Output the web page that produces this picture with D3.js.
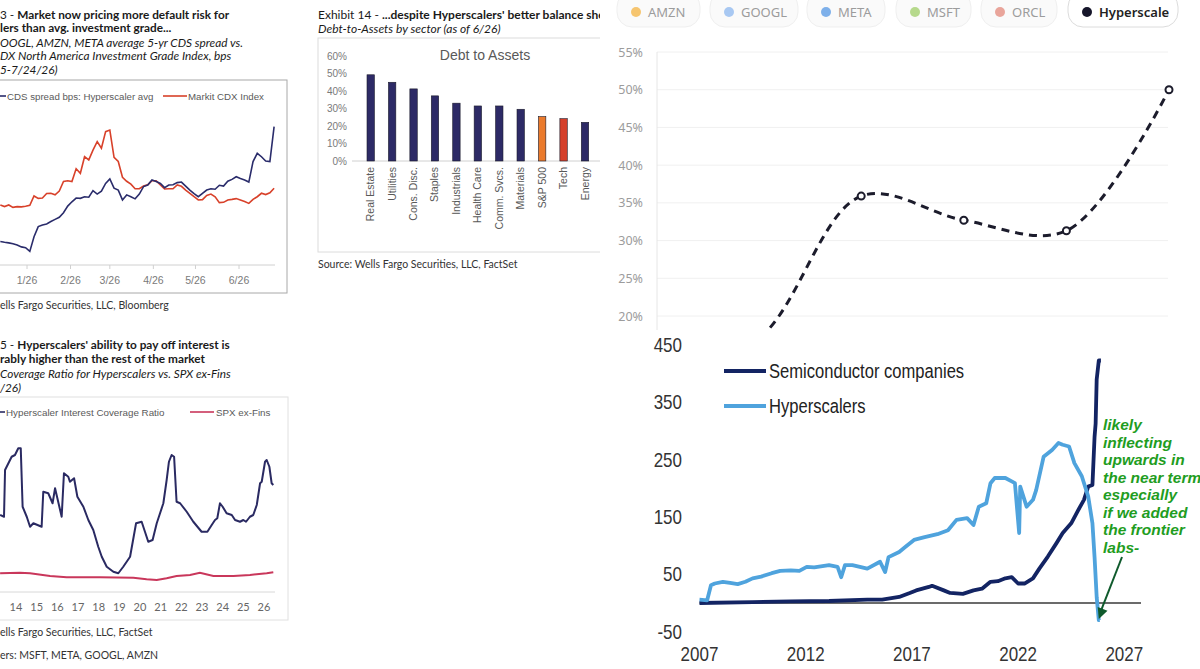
<!DOCTYPE html>
<html>
<head>
<meta charset="utf-8">
<title>Hyperscaler credit collage</title>
<style>
body { margin: 0; background: #fff; }
svg { display: block; }
.wf { font-family: Lato, "Open Sans", sans-serif; }
.ar { font-family: "Liberation Sans", Arial, sans-serif; }
.nt { font-family: "Noto Sans", "Open Sans", sans-serif; }
</style>
</head>
<body>
<svg id="chart" width="1200" height="669"></svg>
<script src="https://cdn.jsdelivr.net/npm/d3@7"></script>
<script>
// ---- Exhibit 13: CDS spreads (every 3rd day from 12/13/25) ----
var cdsDates = d3.timeDay.range(new Date(2025, 11, 13), new Date(2026, 5, 29), 3);
var cdsHyper = [38.8, 38.5, 38.3, 38.0, 37.5, 36.8, 36.5, 35.1, 40.6, 44.4, 45.0, 45.4, 46.3, 47.1, 47.9, 49.6,
  52.1, 53.7, 55.1, 55.0, 55.6, 55.4, 57.9, 56.6, 57.7, 60.6, 62.3, 58.8, 58.1, 54.4, 56.3, 55.6, 54.8, 56.6,
  59.4, 60.0, 61.9, 61.3, 60.6, 59.0, 60.0, 60.1, 60.9, 61.1, 59.6, 58.1, 56.8, 55.6, 56.9, 58.1, 58.6, 58.4,
  59.9, 59.6, 61.4, 62.1, 63.1, 62.4, 61.9, 61.1, 68.8, 71.9, 70.6, 69.0, 68.8, 81.9];
var cdsIndex = [52.5, 51.9, 52.5, 51.6, 51.9, 51.8, 52.0, 52.4, 55.9, 55.0, 55.1, 56.8, 56.9, 56.3, 57.7, 61.3,
  61.6, 61.3, 66.1, 64.4, 70.6, 69.4, 73.1, 76.3, 73.8, 80.0, 80.6, 70.4, 68.8, 62.9, 61.4, 60.3, 58.6, 58.6,
  59.6, 60.1, 61.6, 61.6, 60.0, 58.5, 58.6, 58.6, 60.0, 59.5, 58.1, 56.9, 55.6, 54.4, 54.5, 56.1, 56.6, 55.6,
  53.4, 53.5, 54.4, 54.6, 54.9, 54.4, 53.8, 53.1, 54.6, 55.6, 56.9, 56.4, 57.1, 58.8];
var cdsTicks = ['2026-01-01', '2026-02-01', '2026-03-01', '2026-04-01', '2026-05-01', '2026-06-01'];

// ---- Exhibit 14: debt to assets ----
var sectors = ['Real Estate', 'Utilities', 'Cons. Disc.', 'Staples', 'Industrials', 'Health Care',
  'Comm. Svcs.', 'Materials', 'S&P 500', 'Tech', 'Energy'];
var debtToAssets = [0.495, 0.452, 0.414, 0.374, 0.332, 0.316, 0.316, 0.297, 0.255, 0.243, 0.222];

// ---- Exhibit 15: interest coverage ----
var icrYears = [2013.23, 2013.42, 2013.47, 2013.79, 2013.95, 2014.11, 2014.23, 2014.32, 2014.52, 2014.68,
  2014.84, 2015.24, 2015.32, 2015.56, 2015.77, 2015.89, 2016.21, 2016.32, 2016.53, 2016.61, 2016.81, 2016.97,
  2017.26, 2017.5, 2017.74, 2017.98, 2018.15, 2018.39, 2018.71, 2018.95, 2019.19, 2019.52, 2019.81, 2020.08,
  2020.24, 2020.4, 2020.61, 2020.81, 2021.13, 2021.29, 2021.4, 2021.53, 2021.65, 2021.77, 2021.94, 2022.26,
  2022.58, 2022.98, 2023.26, 2023.47, 2023.63, 2023.74, 2023.87, 2024.0, 2024.19, 2024.44, 2024.6, 2024.84,
  2025.0, 2025.13, 2025.32, 2025.48, 2025.65, 2025.81, 2025.89, 2026.05, 2026.13, 2026.26, 2026.37, 2026.45];
var icrHyper = [30.8, 30.1, 48.8, 54.1, 54.8, 57.5, 57.5, 34.1, 30.1, 26.1, 27.5, 26.1, 40.1, 39.5, 35.5, 41.5,
  30.1, 47.5, 46.1, 44.1, 45.5, 38.1, 34.1, 28.8, 24.8, 18.1, 14.1, 10.1, 8.1, 7.5, 10.1, 14.1, 27.5, 28.1,
  24.1, 20.1, 20.8, 27.5, 35.5, 44.8, 52.1, 54.8, 54.1, 36.1, 35.5, 32.1, 28.1, 24.1, 24.1, 26.8, 28.8, 29.5,
  35.5, 34.1, 31.5, 30.8, 28.8, 28.1, 28.8, 28.1, 30.1, 30.8, 34.8, 43.5, 44.1, 52.1, 52.8, 50.1, 43.5, 42.8];
var spxYears = [2013.23, 2014.19, 2014.68, 2015.65, 2016.45, 2018.06, 2019.68, 2020.32, 2020.81, 2021.29,
  2021.77, 2022.42, 2022.9, 2023.55, 2024.52, 2025.32, 2026.13, 2026.45];
var spxExFins = [7.5, 7.7, 7.5, 6.4, 5.9, 5.9, 5.7, 5.1, 4.8, 5.5, 6.4, 6.8, 7.7, 6.4, 6.4, 6.8, 7.5, 7.9];
var icrTickYears = [2014, 2015, 2016, 2017, 2018, 2019, 2020, 2021, 2022, 2023, 2024, 2025, 2026];

// ---- capex intensity (top right) ----
var tickers = ['AMZN', 'GOOGL', 'META', 'MSFT', 'ORCL', 'Hyperscale'];
var tickerColors = ['#f6c56f', '#a8c8f2', '#7eb0ea', '#b6d98c', '#e9a59b', '#16162a'];
var hsPeriods = ['2020', '2021', '2022', '2023', '2024', '2025'];
var hsValues = [12.0, 17.0, 35.9, 32.7, 31.3, 50.0];

// ---- semis vs hyperscalers (bottom right) ----
var semiYears = [2007.0, 2009.5, 2011.3, 2013.1, 2014.9, 2015.6, 2016.4, 2016.9, 2017.2, 2017.8, 2017.95, 2018.5,
  2018.8, 2019.4, 2019.9, 2020.3, 2020.7, 2021.05, 2021.4, 2021.7, 2022.0, 2022.3, 2022.7, 2023.0, 2023.4, 2023.8,
  2024.1, 2024.5, 2024.8, 2025.1, 2025.3, 2025.5, 2025.6, 2025.65, 2025.7, 2025.8, 2025.9];
var semiValues = [0, 1.7, 2.9, 3.5, 5.8, 5.8, 10.5, 17.5, 22, 28, 30, 22, 17.5, 16, 22, 25, 37, 38, 43, 45, 34, 34,
  43, 60, 81, 104, 122, 139, 160, 180, 203, 206, 290, 313, 390, 423, 423];
var hyperYears = [2007.0, 2007.36, 2007.54, 2007.72, 2008.1, 2008.44, 2008.8, 2009.16, 2009.5, 2009.9, 2010.4,
  2010.8, 2011.3, 2011.7, 2012.05, 2012.4, 2013.1, 2013.5, 2013.67, 2013.85, 2014.2, 2014.9, 2015.5, 2015.74,
  2015.9, 2016.4, 2016.7, 2017.1, 2017.6, 2018.2, 2018.7, 2019.1, 2019.6, 2019.9, 2020.15, 2020.5, 2020.7,
  2020.9, 2021.4, 2021.7, 2021.85, 2022.05, 2022.1, 2022.4, 2022.7, 2022.85, 2023.2, 2023.6, 2023.9, 2024.1,
  2024.4, 2024.65, 2025.0, 2025.3, 2025.5, 2025.6, 2025.7, 2025.8, 2025.85];
var hyperValues = [5.8, 4.7, 31, 34, 37, 35, 33, 37, 43, 46, 52, 56, 57, 56, 63, 62, 66, 63, 45, 66, 66, 60, 72, 54,
  80, 89, 98, 110, 115, 120, 127, 145, 148, 136, 168, 174, 209, 218, 218, 212, 209, 122, 203, 168, 180, 197,
  255, 267, 279, 276, 273, 244, 221, 186, 139, 80, 10, -30, -30];
var eYearTicks = [2007, 2012, 2017, 2022, 2027];
var eValueTicks = [-50, 50, 150, 250, 350, 450];
var note = ['likely', 'inflecting', 'upwards in', 'the near term', 'especially', 'if we added', 'the frontier', 'labs-'];

var svg = d3.select('#chart');
var defs = svg.append('defs');
function clipRect(id, x, y, w, h) {
  defs.append('clipPath').attr('id', id).append('rect')
    .attr('x', x).attr('y', y).attr('width', w).attr('height', h);
  return 'url(#' + id + ')';
}
svg.append('rect').attr('width', 1200).attr('height', 669).attr('fill', '#fff');

// header lines: each line is a list of [text, bold]
function header(g, x, rows, cls) {
  rows.forEach(function(r) {
    var t = g.append('text').attr('class', cls).attr('x', x).attr('y', r.y)
      .attr('font-size', r.size || 11.8).attr('fill', '#1a1a1a')
      .attr('font-style', r.italic ? 'italic' : 'normal');
    r.parts.forEach(function(p) {
      t.append('tspan').attr('font-weight', p[1] ? 700 : 400).text(p[0]);
    });
  });
}
// narrow text for the BofA-style chart (Arial squeezed horizontally)
function narrow(g, x, y, str, size, anchor, fill) {
  return g.append('text').attr('class', 'ar')
    .attr('transform', 'translate(' + x + ',' + y + ') scale(0.85,1)')
    .attr('text-anchor', anchor).attr('font-size', size).attr('fill', fill || '#333').text(str);
}

/* ================= Exhibit 13 (top left) ================= */
var gA = svg.append('g').attr('clip-path', clipRect('cA', 0, 0, 300, 320));
header(gA, 0, [
  {y: 19, parts: [['3 - ', false], ['Market now pricing more default risk for', true]]},
  {y: 32, parts: [['lers than avg. investment grade...', true]]},
  {y: 47, italic: true, parts: [['OOGL, AMZN, META average 5-yr CDS spread vs.', false]]},
  {y: 60, italic: true, parts: [['DX North America Investment Grade Index, bps', false]]},
  {y: 74, italic: true, parts: [['5-7/24/26)', false]]}
], 'wf');
gA.append('rect').attr('x', -2).attr('y', 80).attr('width', 289).attr('height', 213)
  .attr('fill', 'none').attr('stroke', '#a8a8a8');

var xA = d3.scaleTime().domain([new Date(2026, 0, 1), new Date(2026, 5, 1)]).range([27, 239]);
var yA = d3.scaleLinear().domain([30, 90]).range([265, 105]);

gA.append('line').attr('x1', 0).attr('x2', 275).attr('y1', 265).attr('y2', 265).attr('stroke', '#d0d0d0');
cdsTicks.forEach(function(s) {
  var d = d3.timeParse('%Y-%m-%d')(s);
  gA.append('line').attr('x1', xA(d)).attr('x2', xA(d)).attr('y1', 265).attr('y2', 269).attr('stroke', '#d0d0d0');
  gA.append('text').attr('class', 'ar').attr('x', xA(d)).attr('y', 284).attr('text-anchor', 'middle')
    .attr('font-size', 10.5).attr('fill', '#7a7a7a').text(d3.timeFormat('%-m/%y')(d));
});

var lineA = function(vals) {
  return d3.line().x(function(d, i) { return xA(cdsDates[i]); }).y(function(d) { return yA(d); })(vals);
};
gA.append('path').attr('d', lineA(cdsIndex)).attr('fill', 'none').attr('stroke', '#d8412a').attr('stroke-width', 1.6);
gA.append('path').attr('d', lineA(cdsHyper)).attr('fill', 'none').attr('stroke', '#2a2c6b').attr('stroke-width', 1.6);

gA.append('line').attr('x1', 0).attr('x2', 6).attr('y1', 96).attr('y2', 96).attr('stroke', '#2a2c6b').attr('stroke-width', 1.6);
gA.append('text').attr('class', 'ar').attr('x', 7).attr('y', 99.5).attr('font-size', 9.7).attr('fill', '#5a5a5a')
  .text('CDS spread bps: Hyperscaler avg');
gA.append('line').attr('x1', 163).attr('x2', 187).attr('y1', 96).attr('y2', 96).attr('stroke', '#d8412a').attr('stroke-width', 1.6);
gA.append('text').attr('class', 'ar').attr('x', 188).attr('y', 99.5).attr('font-size', 9.7).attr('fill', '#5a5a5a')
  .text('Markit CDX Index');
gA.append('text').attr('class', 'wf').attr('x', 0).attr('y', 309).attr('font-size', 10.5).attr('fill', '#333')
  .text('ells Fargo Securities, LLC, Bloomberg');

/* ================= Exhibit 14 (top middle) ================= */
var gB = svg.append('g').attr('clip-path', clipRect('cB', 305, 0, 295, 320));
header(gB, 318, [
  {y: 19, size: 12, parts: [['Exhibit 14 - ', false], ["...despite Hyperscalers' better balance sheets", true]]},
  {y: 33, size: 12, italic: true, parts: [['Debt-to-Assets by sector (as of 6/26)', false]]}
], 'wf');
gB.append('rect').attr('x', 318).attr('y', 38).attr('width', 300).attr('height', 214)
  .attr('fill', 'none').attr('stroke', '#dcdcdc');
gB.append('text').attr('class', 'ar').attr('x', 485).attr('y', 60).attr('text-anchor', 'middle')
  .attr('font-size', 14).attr('fill', '#595959').text('Debt to Assets');

var xB = d3.scalePoint().domain(sectors).range([370.7, 585]);
var yB = d3.scaleLinear().domain([0, 0.6]).range([161, 56.5]);
yB.ticks(6).forEach(function(t) {
  gB.append('text').attr('class', 'ar').attr('x', 347).attr('y', yB(t) + 3.5).attr('text-anchor', 'end')
    .attr('font-size', 10).attr('fill', '#7a7a7a').text(d3.format('.0%')(t));
});
gB.append('line').attr('x1', 352).attr('x2', 600).attr('y1', 161).attr('y2', 161).attr('stroke', '#d0d0d0');
var barFill = function(s) { return s === 'S&P 500' ? '#ea7a2c' : s === 'Tech' ? '#d5402b' : '#2d2a66'; };
gB.selectAll('rect.bar').data(sectors).join('rect').attr('class', 'bar')
  .attr('x', function(s) { return xB(s) - 3.7; }).attr('width', 7.4)
  .attr('y', function(s, i) { return yB(debtToAssets[i]); })
  .attr('height', function(s, i) { return 161 - yB(debtToAssets[i]); })
  .attr('fill', barFill).attr('stroke', '#1b1b2b').attr('stroke-width', 0.6);
gB.selectAll('text.cat').data(sectors).join('text').attr('class', 'cat ar')
  .attr('transform', function(s) { return 'translate(' + (xB(s) + 3.5) + ',167) rotate(-90)'; })
  .attr('text-anchor', 'end').attr('font-size', 10.5).attr('fill', '#595959').text(function(s) { return s; });
gB.append('text').attr('class', 'wf').attr('x', 318).attr('y', 268).attr('font-size', 10.5).attr('fill', '#333')
  .text('Source: Wells Fargo Securities, LLC, FactSet');

/* ================= Exhibit 15 (bottom left) ================= */
var gC = svg.append('g').attr('clip-path', clipRect('cC', 0, 330, 300, 339));
header(gC, 0, [
  {y: 349, parts: [['5 - ', false], ["Hyperscalers' ability to pay off interest is", true]]},
  {y: 363, parts: [['rably higher than the rest of the market', true]]},
  {y: 378, italic: true, parts: [['Coverage Ratio for Hyperscalers vs. SPX ex-Fins', false]]},
  {y: 392, italic: true, parts: [['/26)', false]]}
], 'wf');
gC.append('rect').attr('x', -2).attr('y', 397).attr('width', 290).attr('height', 223)
  .attr('fill', 'none').attr('stroke', '#e0e0e0');

var xC = d3.scaleLinear().domain([2014, 2026]).range([16, 264]);
var yC = d3.scaleLinear().domain([0, 60]).range([592, 442]);
gC.append('line').attr('x1', 0).attr('x2', 275).attr('y1', 592).attr('y2', 592).attr('stroke', '#d8d8d8');
icrTickYears.forEach(function(y) {
  gC.append('text').attr('class', 'wf').attr('x', xC(y)).attr('y', 611).attr('text-anchor', 'middle')
    .attr('font-size', 11).attr('fill', '#666').text(String(y).slice(2));
});
var lineC = function(xs, vals) {
  return d3.line().x(function(d, i) { return xC(xs[i]); }).y(function(d) { return yC(d); })(vals);
};
gC.append('path').attr('d', lineC(spxYears, spxExFins)).attr('fill', 'none').attr('stroke', '#c9375b').attr('stroke-width', 2);
gC.append('path').attr('d', lineC(icrYears, icrHyper)).attr('fill', 'none').attr('stroke', '#2a2a62')
  .attr('stroke-width', 2).attr('stroke-linejoin', 'round');
gC.append('line').attr('x1', 0).attr('x2', 5).attr('y1', 412).attr('y2', 412).attr('stroke', '#2a2a62').attr('stroke-width', 1.6);
gC.append('text').attr('class', 'ar').attr('x', 6).attr('y', 415.5).attr('font-size', 9.8).attr('fill', '#5a5a5a')
  .text('Hyperscaler Interest Coverage Ratio');
gC.append('line').attr('x1', 190).attr('x2', 214).attr('y1', 412).attr('y2', 412).attr('stroke', '#c9375b').attr('stroke-width', 1.6);
gC.append('text').attr('class', 'ar').attr('x', 216).attr('y', 415.5).attr('font-size', 9.8).attr('fill', '#5a5a5a')
  .text('SPX ex-Fins');
gC.append('text').attr('class', 'wf').attr('x', 0).attr('y', 636).attr('font-size', 10.5).attr('fill', '#333')
  .text('ells Fargo Securities, LLC, FactSet');
gC.append('text').attr('class', 'wf').attr('x', 0).attr('y', 659).attr('font-size', 10.5).attr('fill', '#333')
  .text('ers: MSFT, META, GOOGL, AMZN');

/* ================= Hyperscale (top right) ================= */
var gD = svg.append('g').attr('clip-path', clipRect('cD', 600, 0, 600, 340));
var pillX = [617, 710, 807, 896, 981, 1068];
var pillW = [83, 88, 78, 75, 76, 110];
tickers.forEach(function(t, i) {
  var on = t === 'Hyperscale';
  gD.append('rect').attr('x', pillX[i]).attr('width', pillW[i]).attr('y', -8).attr('height', 35).attr('rx', 15)
    .attr('fill', on ? '#fff' : '#fafafa').attr('stroke', on ? '#dcdcdc' : '#efefef');
  gD.append('circle').attr('cx', pillX[i] + 19).attr('cy', 12).attr('r', 5).attr('fill', tickerColors[i]);
  gD.append('text').attr('class', 'nt').attr('x', pillX[i] + 31).attr('y', 17).attr('font-size', 13)
    .attr('font-weight', on ? 600 : 400).attr('fill', on ? '#222' : '#9c9c9c').text(t);
});

var xD = d3.scalePoint().domain(hsPeriods).range([656, 1169]);
var yD = d3.scaleLinear().domain([20, 55]).range([316, 52]);
d3.range(15, 56, 5).forEach(function(t) {
  gD.append('line').attr('x1', 657).attr('x2', 1168).attr('y1', yD(t)).attr('y2', yD(t)).attr('stroke', '#f0f0f0');
  gD.append('text').attr('class', 'nt').attr('x', 643).attr('y', yD(t) + 4.5).attr('text-anchor', 'end')
    .attr('font-size', 12.5).attr('fill', '#9c9c9c').text(t + '%');
});
gD.append('line').attr('x1', 657).attr('x2', 657).attr('y1', 52).attr('y2', 340).attr('stroke', '#e6e6e6');
gD.append('path')
  .attr('d', d3.line().curve(d3.curveCatmullRom.alpha(0.5))
    .x(function(d, i) { return xD(hsPeriods[i]); }).y(function(d) { return yD(d); })(hsValues))
  .attr('fill', 'none').attr('stroke', '#1c1c2c').attr('stroke-width', 3).attr('stroke-dasharray', '8,6');
gD.selectAll('circle.pt').data(hsValues).join('circle').attr('class', 'pt')
  .attr('cx', function(d, i) { return xD(hsPeriods[i]); }).attr('cy', function(d) { return yD(d); })
  .attr('r', 3.5).attr('fill', '#fff').attr('stroke', '#1c1c2c').attr('stroke-width', 2);

/* ================= Semis vs hyperscalers (bottom right) ================= */
var gE = svg.append('g').attr('clip-path', clipRect('cE', 600, 330, 600, 339));
gE.append('rect').attr('x', 600).attr('y', 330).attr('width', 600).attr('height', 339).attr('fill', '#fff');
var xE = d3.scaleLinear().domain([2007, 2027]).range([699.5, 1124.3]);
var yE = d3.scaleLinear().domain([0, 450]).range([603, 345]);
eValueTicks.forEach(function(v) { narrow(gE, 682, yE(v) + 7, v, 20, 'end'); });
eYearTicks.forEach(function(y) { narrow(gE, xE(y), 661, y, 20, 'middle'); });
gE.append('line').attr('x1', xE(2007)).attr('x2', 1141).attr('y1', yE(0)).attr('y2', yE(0))
  .attr('stroke', '#3a3a3a').attr('stroke-width', 1.6);
var lineE = function(xs, vals) {
  return d3.line().x(function(d, i) { return xE(xs[i]); }).y(function(d) { return yE(d); })(vals);
};
gE.append('path').attr('d', lineE(semiYears, semiValues)).attr('fill', 'none').attr('stroke', '#132463')
  .attr('stroke-width', 3.8).attr('stroke-linejoin', 'round');
gE.append('path').attr('d', lineE(hyperYears, hyperValues)).attr('fill', 'none').attr('stroke', '#4fa3dd')
  .attr('stroke-width', 3.8).attr('stroke-linejoin', 'round');
gE.append('line').attr('x1', 724).attr('x2', 766).attr('y1', 371).attr('y2', 371).attr('stroke', '#132463').attr('stroke-width', 4);
narrow(gE, 769, 378, 'Semiconductor companies', 19.5, 'start', '#222');
gE.append('line').attr('x1', 724).attr('x2', 766).attr('y1', 406).attr('y2', 406).attr('stroke', '#4fa3dd').attr('stroke-width', 4);
narrow(gE, 769, 413, 'Hyperscalers', 19.5, 'start', '#222');

note.forEach(function(s, i) {
  gE.append('text').attr('class', 'ar').attr('x', 1103).attr('y', 430 + i * 17.5)
    .attr('font-size', 15.5).attr('font-weight', 700).attr('font-style', 'italic').attr('fill', '#1f9d1f').text(s);
});
// arrow to the dip below zero
var tip = [xE(2025.8), yE(-28)], tail = [1122, 557];
gE.append('line').attr('x1', tail[0]).attr('y1', tail[1]).attr('x2', tip[0] + 2).attr('y2', tip[1] - 8)
  .attr('stroke', '#0f5a2c').attr('stroke-width', 2);
var ang = Math.atan2(tip[1] - tail[1], tip[0] - tail[0]);
var hl = 12, hw = 0.45;
gE.append('path').attr('d', 'M' + tip + 'L' +
    [tip[0] - hl * Math.cos(ang - hw), tip[1] - hl * Math.sin(ang - hw)] + 'L' +
    [tip[0] - hl * Math.cos(ang + hw), tip[1] - hl * Math.sin(ang + hw)] + 'Z')
  .attr('fill', '#0f5a2c');
</script>
</body>
</html>
